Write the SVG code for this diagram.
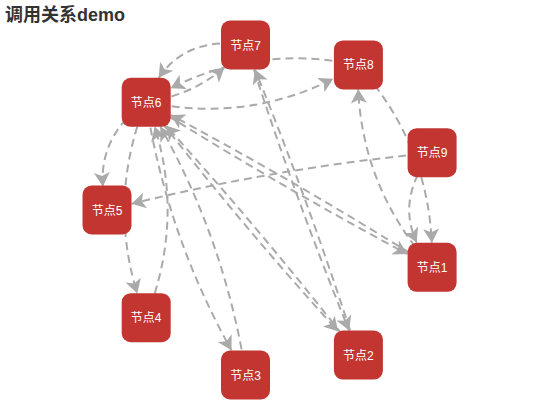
<svg xmlns="http://www.w3.org/2000/svg" width="550" height="420" viewBox="0 0 550 420">
<style>
.title{font-family:"Liberation Sans","Noto Sans CJK SC",sans-serif;font-size:18px;font-weight:bold;fill:#333}
.node rect{fill:#c23531}
.node text{font-family:"Liberation Sans","Noto Sans CJK SC",sans-serif;font-size:12px;fill:#fff;text-anchor:middle}
.edge{fill:none;stroke:#aaa;stroke-width:2;stroke-dasharray:8 5;marker-end:url(#arrow)}
</style>
<defs>
<marker id="arrow" markerUnits="userSpaceOnUse" viewBox="-15 -9 16 18" markerWidth="16" markerHeight="18" refX="0" refY="0" orient="auto">
<path d="M0,0 L-14,-8 L-10.5,0 L-14,8 Z" fill="#aaa"/>
</marker>
</defs>
<rect width="550" height="420" fill="#fff"/>
<text class="title" x="5" y="21">调用关系demo</text>
<g id="connectors">
<path class="edge" d="M146,102 Q99.1,135.1 102.9,186.4"/>
<path class="edge" d="M246,45 Q187.8,35.8 158.7,77.8"/>
<path class="edge" d="M358,65 Q258.7,44.1 170.7,88.2"/>
<path class="edge" d="M146,102 Q191.4,95.7 224.4,67.5"/>
<path class="edge" d="M146,102 Q245.3,122.9 333.3,78.8"/>
<path class="edge" d="M146,102 Q107.7,197.8 137.3,293.5"/>
<path class="edge" d="M146,318 Q184.3,222.2 154.7,126.5"/>
<path class="edge" d="M146,102 Q166.5,234.3 231.5,350.3"/>
<path class="edge" d="M246,375 Q225.5,242.7 160.4,126.7"/>
<path class="edge" d="M432,153 Q279.8,167.3 131.5,203.8"/>
<path class="edge" d="M432,153 Q396.2,197.7 416.6,242.5"/>
<path class="edge" d="M358,65 Q427.2,142.1 431.8,242.8"/>
<path class="edge" d="M432,267 Q362.8,189.9 358.2,89.2"/>
<path class="edge" d="M146,102 Q274,182.8 407.5,254.1"/>
<path class="edge" d="M432,267 Q304,186.2 170.5,114.9"/>
<path class="edge" d="M146,102 Q237.5,220.5 338.2,331.4"/>
<path class="edge" d="M358,355 Q266.5,236.5 165.8,125.6"/>
<path class="edge" d="M246,45 Q291.9,189.8 349.1,330.5"/>
<path class="edge" d="M358,355 Q312.1,210.2 254.9,69.5"/>
</g>
<g id="node1" class="node"><rect x="407.6" y="242.8" width="49" height="49" rx="9"/><text x="432.1" y="271.8">节点1</text></g>
<g id="node2" class="node"><rect x="333.9" y="330.6" width="49" height="49" rx="9"/><text x="358.4" y="359.6">节点2</text></g>
<g id="node3" class="node"><rect x="221" y="350.5" width="49" height="49" rx="9"/><text x="245.5" y="379.5">节点3</text></g>
<g id="node4" class="node"><rect x="121.7" y="293.2" width="49" height="49" rx="9"/><text x="146.2" y="322.2">节点4</text></g>
<g id="node5" class="node"><rect x="82.5" y="185.5" width="49" height="49" rx="9"/><text x="107" y="214.5">节点5</text></g>
<g id="node6" class="node"><rect x="121.7" y="77.8" width="49" height="49" rx="9"/><text x="146.2" y="106.8">节点6</text></g>
<g id="node7" class="node"><rect x="221" y="20.5" width="49" height="49" rx="9"/><text x="245.5" y="49.5">节点7</text></g>
<g id="node8" class="node"><rect x="333.9" y="40.4" width="49" height="49" rx="9"/><text x="358.4" y="69.4">节点8</text></g>
<g id="node9" class="node"><rect x="407.6" y="128.2" width="49" height="49" rx="9"/><text x="432.1" y="157.2">节点9</text></g>
</svg>
